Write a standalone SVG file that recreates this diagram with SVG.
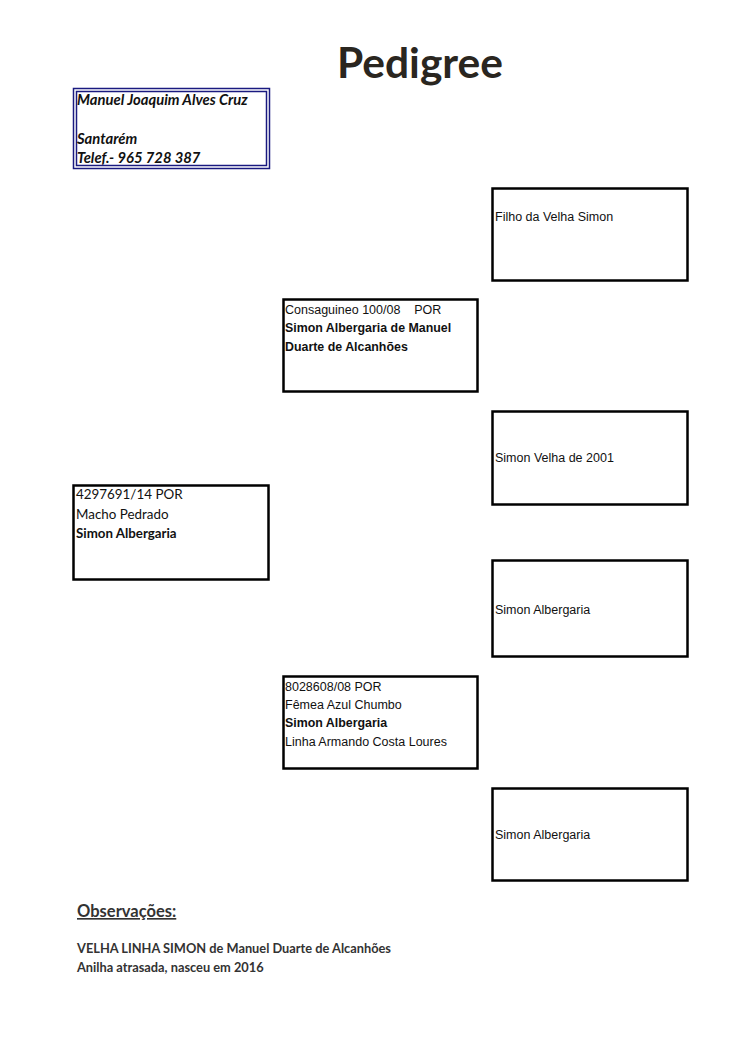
<svg xmlns="http://www.w3.org/2000/svg" width="750" height="1061" viewBox="0 0 750 1061">
<style>
.box{fill:#fff;stroke:#000;stroke-width:2.5}
.a{font-family:"Liberation Sans",Arial,sans-serif;font-size:12.5px;fill:#111}
.ab{font-family:"Liberation Sans",Arial,sans-serif;font-size:12.4px;font-weight:bold;fill:#111}
.c{font-family:Lato,"Open Sans",sans-serif;font-size:13.4px;fill:#111}
.cb{font-family:Lato,"Open Sans",sans-serif;font-size:13.3px;font-weight:bold;fill:#111}
.own{font-family:Lato,"Open Sans",sans-serif;font-size:14.8px;font-weight:bold;font-style:italic;fill:#111}
.obs{font-family:Lato,"Open Sans",sans-serif;font-size:12.8px;font-weight:bold;fill:#333}
</style>
<rect width="750" height="1061" fill="#fff"/>
<text x="420" y="78" text-anchor="middle" font-family="Lato,'Open Sans',sans-serif" font-size="42.5" font-weight="bold" fill="#2a2620">Pedigree</text>
<g id="owner">
<rect x="73.5" y="88.5" width="196" height="80" fill="#fff" stroke="#1a1a80" stroke-width="1.5"/>
<rect x="76.5" y="91.5" width="190" height="74" fill="none" stroke="#1a1a80" stroke-width="1.5"/>
<text class="own" x="77" y="105">Manuel Joaquim Alves Cruz</text>
<text class="own" x="77" y="144">Santarém</text>
<text class="own" x="77" y="163">Telef.- 965 728 387</text>
</g>
<g id="sire">
<rect class="box" x="73.5" y="485.5" width="195" height="94"/>
<text class="c" x="76" y="499">4297691/14 POR</text>
<text class="c" x="76" y="519">Macho Pedrado</text>
<text class="cb" x="76" y="538">Simon Albergaria</text>
</g>
<g id="sire-father">
<rect class="box" x="283.5" y="299.5" width="194" height="92"/>
<text class="a" x="285" y="314" xml:space="preserve">Consaguineo 100/08    POR</text>
<text class="ab" x="285" y="332">Simon Albergaria de Manuel</text>
<text class="ab" x="285" y="351">Duarte de Alcanhões</text>
</g>
<g id="sire-father-father">
<rect class="box" x="492.5" y="188.5" width="195" height="92"/>
<text class="a" x="495" y="221">Filho da Velha Simon</text>
</g>
<g id="sire-father-mother">
<rect class="box" x="492.5" y="411.5" width="195" height="93"/>
<text class="a" x="495" y="462">Simon Velha de 2001</text>
</g>
<g id="dam">
<rect class="box" x="283.5" y="676.5" width="194" height="92"/>
<text class="a" x="285" y="691">8028608/08 POR</text>
<text class="a" x="285" y="709">Fêmea Azul Chumbo</text>
<text class="ab" x="285" y="727">Simon Albergaria</text>
<text class="a" x="285" y="746">Linha Armando Costa Loures</text>
</g>
<g id="dam-father">
<rect class="box" x="492.5" y="560.5" width="195" height="96"/>
<text class="a" x="495" y="614">Simon Albergaria</text>
</g>
<g id="dam-mother">
<rect class="box" x="492.5" y="788.5" width="195" height="92"/>
<text class="a" x="495" y="839">Simon Albergaria</text>
</g>
<g id="notes">
<text x="77" y="917" font-family="Lato,'Open Sans',sans-serif" font-size="16.5" font-weight="bold" fill="#333" text-decoration="underline">Observações:</text>
<text class="obs" x="77" y="953">VELHA LINHA SIMON de Manuel Duarte de Alcanhões</text>
<text class="obs" x="77" y="972">Anilha atrasada, nasceu em 2016</text>
</g>
</svg>
